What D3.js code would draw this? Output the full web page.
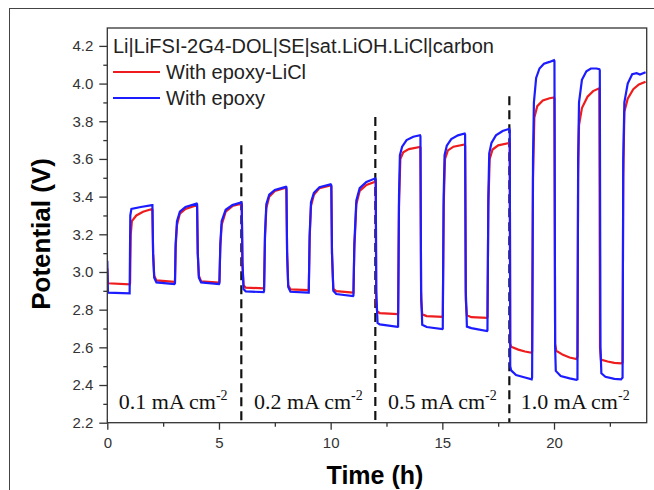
<!DOCTYPE html>
<html>
<head>
<meta charset="utf-8">
<script src="https://cdn.jsdelivr.net/npm/d3@7/dist/d3.min.js"></script>
<style>
body { margin: 0; background: #fff; }
svg { display: block; }
</style>
</head>
<body>
<script>
// potential vs time, [time h, potential V]
var withEpoxyLiCl = [
  [0, 3.02], [0.03, 2.94], [1.0, 2.934],
  [1.02, 2.94], [1.05, 3.2], [1.1, 3.27], [1.3, 3.30], [1.6, 3.32], [2.0, 3.334],
  [2.02, 3.33], [2.05, 3.1], [2.1, 2.98], [2.2, 2.955], [3.0, 2.948],
  [3.03, 2.95], [3.06, 3.13], [3.12, 3.25], [3.25, 3.31], [3.5, 3.335], [4.0, 3.355],
  [4.02, 3.35], [4.05, 3.1], [4.1, 2.98], [4.2, 2.95], [5.0, 2.943],
  [5.02, 2.95], [5.06, 3.13], [5.12, 3.25], [5.3, 3.32], [5.6, 3.35], [6.0, 3.362],
  [6.02, 3.35], [6.05, 3.05], [6.1, 2.93], [6.2, 2.917], [7.0, 2.913],
  [7.02, 2.92], [7.06, 3.18], [7.12, 3.34], [7.25, 3.40], [7.5, 3.43], [8.0, 3.447],
  [8.02, 3.44], [8.05, 3.1], [8.1, 2.93], [8.2, 2.908], [9.0, 2.904],
  [9.02, 2.91], [9.06, 3.18], [9.12, 3.35], [9.25, 3.41], [9.5, 3.445], [10.0, 3.46],
  [10.03, 3.455], [10.06, 3.1], [10.12, 2.91], [10.25, 2.898], [11.0, 2.89],
  [11.02, 2.89], [11.06, 3.12], [11.15, 3.36], [11.3, 3.43], [11.6, 3.462], [12.0, 3.479],
  [12.02, 3.47], [12.04, 2.85], [12.08, 2.79], [12.2, 2.782], [13.0, 2.776],
  [13.02, 2.78], [13.06, 3.35], [13.12, 3.6], [13.25, 3.635], [13.5, 3.652], [14.0, 3.664],
  [14.02, 3.66], [14.05, 2.85], [14.1, 2.775], [14.3, 2.766], [15.0, 2.762],
  [15.02, 2.77], [15.06, 3.35], [15.12, 3.6], [15.25, 3.645], [15.5, 3.665], [16.0, 3.677],
  [16.02, 3.67], [16.05, 2.85], [16.1, 2.77], [16.3, 2.76], [17.0, 2.757],
  [17.02, 2.76], [17.06, 3.35], [17.12, 3.6], [17.25, 3.65], [17.5, 3.672], [18.0, 3.685],
  [18.02, 3.68], [18.04, 2.62], [18.08, 2.603], [18.4, 2.588], [18.7, 2.578], [19.0, 2.571],
  [19.02, 2.58], [19.06, 3.5], [19.12, 3.82], [19.25, 3.88], [19.5, 3.91], [19.8, 3.922], [20.0, 3.926],
  [20.02, 3.92], [20.05, 2.62], [20.1, 2.582], [20.4, 2.56], [20.7, 2.546], [21.0, 2.538],
  [21.05, 2.55], [21.08, 3.5], [21.12, 3.78], [21.25, 3.87], [21.5, 3.93], [21.75, 3.96], [22.0, 3.974],
  [22.03, 3.97], [22.06, 2.6], [22.1, 2.535], [22.4, 2.525], [22.7, 2.518], [23.0, 2.515],
  [23.07, 2.52], [23.1, 3.5], [23.15, 3.85], [23.3, 3.92], [23.55, 3.97], [23.8, 3.995], [24.1, 4.01]
];

var withEpoxy = [
  [0, 3.06], [0.03, 2.89], [1.0, 2.886],
  [1.0, 2.886], [1.03, 3.30], [1.08, 3.335], [1.5, 3.345], [2.0, 3.355],
  [2.02, 3.355], [2.05, 3.10], [2.1, 2.97], [2.2, 2.945], [3.0, 2.936],
  [3.03, 2.94], [3.06, 3.15], [3.12, 3.27], [3.25, 3.32], [3.5, 3.345], [4.0, 3.363],
  [4.02, 3.36], [4.05, 3.1], [4.1, 2.97], [4.2, 2.945], [5.0, 2.936],
  [5.02, 2.94], [5.06, 3.15], [5.12, 3.27], [5.3, 3.33], [5.6, 3.355], [6.0, 3.369],
  [6.02, 3.36], [6.05, 3.05], [6.1, 2.91], [6.2, 2.897], [7.0, 2.893],
  [7.02, 2.9], [7.06, 3.2], [7.12, 3.36], [7.25, 3.41], [7.5, 3.435], [8.0, 3.452],
  [8.02, 3.45], [8.05, 3.1], [8.1, 2.92], [8.2, 2.895], [9.0, 2.89],
  [9.02, 2.89], [9.06, 3.2], [9.12, 3.37], [9.25, 3.42], [9.5, 3.45], [10.0, 3.465],
  [10.03, 3.46], [10.06, 3.1], [10.12, 2.9], [10.25, 2.883], [11.0, 2.872],
  [11.02, 2.875], [11.06, 3.15], [11.15, 3.38], [11.3, 3.445], [11.6, 3.478], [12.0, 3.497],
  [12.02, 3.49], [12.04, 2.9], [12.1, 2.73], [12.2, 2.722], [13.0, 2.709],
  [13.02, 2.71], [13.06, 3.4], [13.1, 3.62], [13.2, 3.665], [13.4, 3.7], [13.7, 3.718], [14.0, 3.726],
  [14.02, 3.72], [14.05, 2.9], [14.1, 2.72], [14.3, 2.708], [15.0, 2.697],
  [15.02, 2.7], [15.06, 3.4], [15.1, 3.62], [15.2, 3.67], [15.4, 3.705], [15.7, 3.725], [16.0, 3.735],
  [16.02, 3.73], [16.05, 2.9], [16.1, 2.71], [16.3, 2.702], [17.0, 2.686],
  [17.02, 2.69], [17.06, 3.4], [17.1, 3.63], [17.2, 3.685], [17.4, 3.725], [17.7, 3.748], [18.0, 3.76],
  [18.02, 3.75], [18.04, 2.5], [18.08, 2.478], [18.3, 2.453], [18.7, 2.44], [19.0, 2.43],
  [19.02, 2.44], [19.06, 3.6], [19.1, 3.9], [19.2, 4.03], [19.35, 4.08], [19.55, 4.105], [19.8, 4.115], [20.0, 4.124],
  [20.02, 4.12], [20.05, 2.6], [20.08, 2.475], [20.3, 2.448], [20.7, 2.435], [21.0, 2.427],
  [21.05, 2.43], [21.08, 3.6], [21.12, 3.9], [21.25, 4.02], [21.45, 4.065], [21.65, 4.08], [21.9, 4.08], [22.03, 4.076],
  [22.05, 4.07], [22.08, 2.6], [22.12, 2.462], [22.3, 2.444], [22.7, 2.433], [23.0, 2.43],
  [23.07, 2.44], [23.1, 3.6], [23.15, 3.9], [23.3, 4.0], [23.5, 4.05], [23.7, 4.055], [23.85, 4.048], [24.1, 4.06]
];

var yTicks = [2.2, 2.4, 2.6, 2.8, 3.0, 3.2, 3.4, 3.6, 3.8, 4.0, 4.2];
var yMinor = [2.3, 2.5, 2.7, 2.9, 3.1, 3.3, 3.5, 3.7, 3.9, 4.1];
var xTicks = [0, 5, 10, 15, 20];
var xMinor = [2.5, 7.5, 12.5, 17.5, 22.5];

// current density steps: boundary time and top of dashed line
var stepTimes = [6, 12, 18];
var stepTops = [3.673, 3.823, 3.933];
var currents = ["0.1", "0.2", "0.5", "1.0"];
var currentCenters = [2.95, 9.0, 15.0, 20.95];

var title = "Li|LiFSI-2G4-DOL|SE|sat.LiOH.LiCl|carbon";
var seriesNames = ["With epoxy-LiCl", "With epoxy"];
var colors = ["#ee1c1c", "#1c1cff"];

var width = 654, height = 490;
var pLeft = 107.3, pRight = 646.7, pTop = 28, pBottom = 422.7;

var svg = d3.select("body").append("svg")
    .attr("width", width)
    .attr("height", height);

// outer frame
svg.append("rect")
    .attr("x", 9.5).attr("y", 8.5)
    .attr("width", 700).attr("height", 600)
    .attr("fill", "none")
    .attr("stroke", "#444")
    .attr("stroke-width", 1);

var x = d3.scaleLinear().domain([0, 24.15]).range([pLeft, pRight]);
var y = d3.scaleLinear().domain([2.2, 4.295]).range([pBottom, pTop]);

svg.append("clipPath").attr("id", "clip")
  .append("rect")
    .attr("x", pLeft).attr("y", pTop)
    .attr("width", pRight - pLeft).attr("height", pBottom - pTop);

var line = d3.line()
    .x(function(d) { return x(d[0]); })
    .y(function(d) { return y(d[1]); });

var plot = svg.append("g").attr("clip-path", "url(#clip)");

// dashed step lines
plot.selectAll(".step")
    .data(stepTimes)
  .enter().append("line")
    .attr("x1", function(d) { return x(d); })
    .attr("x2", function(d) { return x(d); })
    .attr("y1", function(d, i) { return y(stepTops[i]); })
    .attr("y2", pBottom)
    .attr("stroke", "#111")
    .attr("stroke-width", 2.2)
    .attr("stroke-dasharray", "9,5");

plot.append("path")
    .datum(withEpoxyLiCl)
    .attr("d", line)
    .attr("fill", "none")
    .attr("stroke", colors[0])
    .attr("stroke-width", 2.2);

plot.append("path")
    .datum(withEpoxy)
    .attr("d", line)
    .attr("fill", "none")
    .attr("stroke", colors[1])
    .attr("stroke-width", 2.2);

// axes
var axisColor = "#333";
svg.append("g")
    .attr("transform", "translate(" + pLeft + ",0)")
    .call(d3.axisLeft(y).tickValues(yTicks).tickSize(8).tickPadding(6)
      .tickFormat(d3.format(".1f")))
    .attr("font-size", 15)
    .attr("font-family", "'Liberation Sans', Arial, sans-serif");
svg.append("g")
    .attr("transform", "translate(" + pLeft + ",0)")
    .call(d3.axisLeft(y).tickValues(yMinor).tickSize(4).tickFormat(""));

svg.append("g")
    .attr("transform", "translate(0," + pBottom + ")")
    .call(d3.axisBottom(x).tickValues(xTicks).tickSize(7).tickPadding(8)
      .tickFormat(d3.format("d")))
    .attr("font-size", 15)
    .attr("font-family", "'Liberation Sans', Arial, sans-serif");
svg.append("g")
    .attr("transform", "translate(0," + pBottom + ")")
    .call(d3.axisBottom(x).tickValues(xMinor).tickSize(4).tickFormat(""));

svg.selectAll(".domain").remove();
svg.selectAll(".tick line").attr("stroke", axisColor).attr("stroke-width", 1.3);
svg.selectAll(".tick text").attr("fill", axisColor);

// plot box
svg.append("rect")
    .attr("x", pLeft).attr("y", pTop)
    .attr("width", pRight - pLeft).attr("height", pBottom - pTop)
    .attr("fill", "none")
    .attr("stroke", axisColor)
    .attr("stroke-width", 1.3);

// axis titles
svg.append("text")
    .attr("transform", "translate(50,234) rotate(-90)")
    .attr("text-anchor", "middle")
    .style("font-family", "'Liberation Sans', Arial, sans-serif")
    .style("font-weight", "bold")
    .style("font-size", "26px")
    .text("Potential (V)");

svg.append("text")
    .attr("x", 375).attr("y", 484)
    .attr("text-anchor", "middle")
    .style("font-family", "'Liberation Sans', Arial, sans-serif")
    .style("font-weight", "bold")
    .style("font-size", "25px")
    .text("Time (h)");

// legend
svg.append("text")
    .attr("x", 113).attr("y", 53)
    .attr("fill", "#222")
    .style("font-family", "'Liberation Sans', Arial, sans-serif")
    .style("font-size", "20px")
    .text(title);

var legend = svg.selectAll(".legend")
    .data(seriesNames)
  .enter().append("g")
    .attr("transform", function(d, i) { return "translate(113," + (72 + i * 26) + ")"; });
legend.append("line")
    .attr("x1", 0).attr("x2", 47)
    .attr("stroke", function(d, i) { return colors[i]; })
    .attr("stroke-width", 2.2);
legend.append("text")
    .attr("x", 53).attr("y", 7)
    .attr("fill", "#222")
    .style("font-family", "'Liberation Sans', Arial, sans-serif")
    .style("font-size", "20px")
    .text(function(d) { return d; });

// current density labels
var cur = svg.selectAll(".cur")
    .data(currents)
  .enter().append("text")
    .attr("x", function(d, i) { return x(currentCenters[i]); })
    .attr("y", 409)
    .attr("text-anchor", "middle")
    .attr("fill", "#111")
    .style("font-family", "'Liberation Serif', 'Times New Roman', serif")
    .style("font-size", "22px");
cur.append("tspan").text(function(d) { return d + " mA cm"; });
cur.append("tspan")
    .attr("dy", -9)
    .style("font-size", "14px")
    .text("-2");
</script>
</body>
</html>
